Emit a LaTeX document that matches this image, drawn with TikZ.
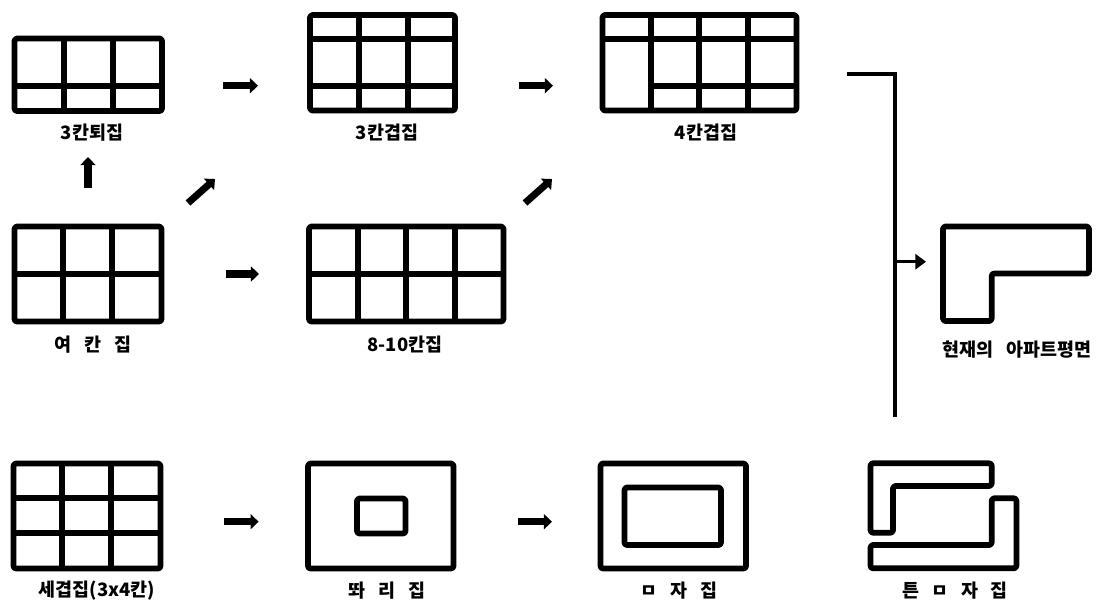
\documentclass[tikz,border=0pt]{standalone}
\usepackage{fontspec}
\newfontfamily\kr[WordSpace=3]{Noto Sans CJK KR Black}
\usetikzlibrary{arrows.meta}
\tikzset{
    plan/.style={line width=3.3pt, rounded corners=1.5pt, line cap=round, line join=round},
    wall/.style={line width=3.3pt},
    flow/.style={line width=4pt, -{Triangle[length=4.6pt, width=8.5pt]}},
    planlabel/.style={font=\kr\fontsize{10.5}{12}\selectfont, inner sep=0pt}
}
\begin{document}
\begin{tikzpicture}[x=0.02cm, y=-0.02cm]
    \useasboundingbox (0,0) rectangle (1098,600);

    % 3칸퇴집
    \draw[plan] (14.5,38.5) rectangle (162,111);
    \draw[wall] (64,38.5) -- (64,111);
    \draw[wall] (113,38.5) -- (113,111);
    \draw[wall] (14.5,85.7) -- (162,85.7);
    \node[planlabel] (toe3) at (92,133) {3칸퇴집};

    % 3칸겹집
    \draw[plan] (310,15) rectangle (455,110.5);
    \draw[wall] (359,15) -- (359,110.5);
    \draw[wall] (408,15) -- (408,110.5);
    \draw[wall] (310,38.7) -- (455,38.7);
    \draw[wall] (310,85.7) -- (455,85.7);
    \node[planlabel] (gyeop3) at (387,133) {3칸겹집};

    % 4칸겹집
    \draw[plan] (602.5,15) rectangle (796.5,110.5);
    \draw[wall] (651,15) -- (651,110.5);
    \draw[wall] (699,15) -- (699,110.5);
    \draw[wall] (748,15) -- (748,110.5);
    \draw[wall] (602.5,38.7) -- (796.5,38.7);
    \draw[wall] (651,85.7) -- (796.5,85.7);
    \node[planlabel] (gyeop4) at (706,133) {4칸겹집};

    % 여칸집
    \draw[plan] (14.5,226.5) rectangle (161.5,321.5);
    \draw[wall] (63,226.5) -- (63,321.5);
    \draw[wall] (112,226.5) -- (112,321.5);
    \draw[wall] (14.5,274) -- (161.5,274);
    \node[planlabel] (yeo) at (93,345) {여 칸 집};

    % 8-10칸집
    \draw[plan] (309,226.5) rectangle (503.5,321.5);
    \draw[wall] (358,226.5) -- (358,321.5);
    \draw[wall] (406,226.5) -- (406,321.5);
    \draw[wall] (455,226.5) -- (455,321.5);
    \draw[wall] (309,274) -- (503.5,274);
    \node[planlabel] (kan810) at (405,345) {8-10칸집};

    % 세겹집
    \draw[plan] (13.5,463.5) rectangle (160.5,568.5);
    \draw[wall] (62,463.5) -- (62,568.5);
    \draw[wall] (111,463.5) -- (111,568.5);
    \draw[wall] (13.5,498.3) -- (160.5,498.3);
    \draw[wall] (13.5,533) -- (160.5,533);
    \node[planlabel] (se) at (97,591) {세겹집(3x4칸)};

    % 똬리집
    \draw[plan] (308,463.5) rectangle (453.5,568.5);
    \draw[plan] (357,498.5) rectangle (405.5,533.5);
    \node[planlabel] (ddwari) at (387,591) {똬 리 집};

    % ㅁ자집
    \draw[plan] (600.5,463.5) rectangle (746,568.5);
    \draw[plan] (624.5,487.5) rectangle (721,545);
    \node[planlabel] (mieum) at (679,591) {ㅁ 자 집};

    % 튼ㅁ자집
    \draw[plan] (870.5,463.3) -- (991.7,463.3) -- (991.7,486) -- (893,486) -- (893,532.7) -- (870.5,532.7) -- cycle;
    \draw[plan] (991.7,498.3) -- (1016.4,498.3) -- (1016.4,568.3) -- (870.5,568.3) -- (870.5,545) -- (991.7,545) -- cycle;
    \node[planlabel] (teun) at (955,591) {튼 ㅁ 자 집};

    % 현재의 아파트평면
    \draw[plan] (943,226.5) -- (1089,226.5) -- (1089,273.5) -- (991.7,273.5) -- (991.7,321) -- (943,321) -- cycle;
    \node[planlabel] (apt) at (1017,350) {현재의 아파트평면};

    % 화살표
    \coordinate (a1) at (223,85.7);  \coordinate (a2) at (258,85.7);
    \coordinate (b1) at (518.6,85.7); \coordinate (b2) at (553,85.7);
    \coordinate (c1) at (226,274);   \coordinate (c2) at (259,274);
    \coordinate (d1) at (224,521.7); \coordinate (d2) at (258.6,521.7);
    \coordinate (e1) at (518,521.7); \coordinate (e2) at (552,521.7);
    \coordinate (f1) at (88,188);    \coordinate (f2) at (88,157);
    \coordinate (g1) at (188,203);   \coordinate (g2) at (215,179);
    \coordinate (h1) at (525,203);   \coordinate (h2) at (552,179);
    \draw[flow] (a1) -- (a2);
    \draw[flow] (b1) -- (b2);
    \draw[flow] (c1) -- (c2);
    \draw[flow] (d1) -- (d2);
    \draw[flow] (e1) -- (e2);
    \draw[flow] (f1) -- (f2);
    \draw[flow] (g1) -- (g2);
    \draw[flow] (h1) -- (h2);

    % 합류선
    \coordinate (j1) at (846.5,74);
    \coordinate (j2) at (895,74);
    \coordinate (j3) at (895,417);
    \coordinate (j4) at (895,261.7);
    \coordinate (j5) at (926,261.7);
    \draw[line width=2.2pt] (j1) -- (j2) -- (j3);
    \draw[line width=1.8pt, -{Triangle[length=6pt, width=8.5pt]}] (j4) -- (j5);
\end{tikzpicture}
\end{document}
